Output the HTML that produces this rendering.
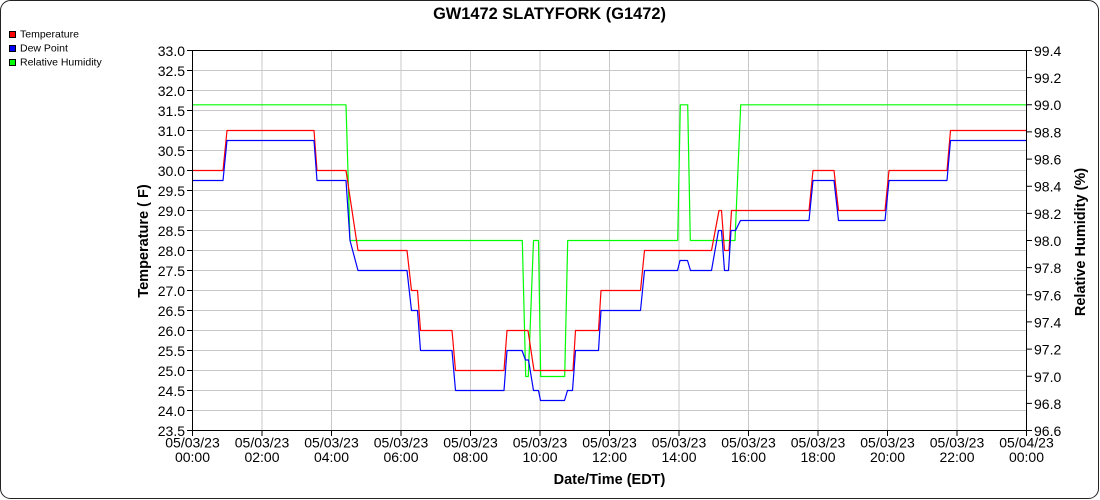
<!DOCTYPE html>
<html><head><meta charset="utf-8"><style>
html,body{margin:0;padding:0;background:#fff;}
svg{display:block;}
text{font-family:"Liberation Sans",Arial,sans-serif;fill:#000;}
</style></head><body>
<svg width="1100" height="500" viewBox="0 0 1100 500" xmlns="http://www.w3.org/2000/svg">
<rect x="0.5" y="0.5" width="1098" height="498" rx="10" ry="10" fill="#fff" stroke="#222" stroke-width="1"/>
<text x="549.5" y="19" font-size="16.4" font-weight="bold" text-anchor="middle">GW1472 SLATYFORK (G1472)</text>
<!-- legend -->
<rect x="9.5" y="31.5" width="6" height="6" fill="#ff0000" stroke="#000"/>
<text x="20" y="37.5" font-size="10.5">Temperature</text>
<rect x="9.5" y="45.5" width="6" height="6" fill="#0000ff" stroke="#000"/>
<text x="20" y="51.5" font-size="10.5">Dew Point</text>
<rect x="9.5" y="59.5" width="6" height="6" fill="#00ff00" stroke="#000"/>
<text x="20" y="65.5" font-size="10.5">Relative Humidity</text>
<!-- grid -->
<g stroke="#c8c8c8" stroke-width="1">
<line x1="192" y1="70.5" x2="1026" y2="70.5"/><line x1="192" y1="90.5" x2="1026" y2="90.5"/><line x1="192" y1="110.5" x2="1026" y2="110.5"/><line x1="192" y1="130.5" x2="1026" y2="130.5"/><line x1="192" y1="150.5" x2="1026" y2="150.5"/><line x1="192" y1="170.5" x2="1026" y2="170.5"/><line x1="192" y1="190.5" x2="1026" y2="190.5"/><line x1="192" y1="210.5" x2="1026" y2="210.5"/><line x1="192" y1="230.5" x2="1026" y2="230.5"/><line x1="192" y1="250.5" x2="1026" y2="250.5"/><line x1="192" y1="270.5" x2="1026" y2="270.5"/><line x1="192" y1="290.5" x2="1026" y2="290.5"/><line x1="192" y1="310.5" x2="1026" y2="310.5"/><line x1="192" y1="330.5" x2="1026" y2="330.5"/><line x1="192" y1="350.5" x2="1026" y2="350.5"/><line x1="192" y1="370.5" x2="1026" y2="370.5"/><line x1="192" y1="390.5" x2="1026" y2="390.5"/><line x1="192" y1="410.5" x2="1026" y2="410.5"/>
<line x1="262" y1="50" x2="262" y2="430"/><line x1="331.5" y1="50" x2="331.5" y2="430"/><line x1="401" y1="50" x2="401" y2="430"/><line x1="470.5" y1="50" x2="470.5" y2="430"/><line x1="540" y1="50" x2="540" y2="430"/><line x1="609.5" y1="50" x2="609.5" y2="430"/><line x1="679" y1="50" x2="679" y2="430"/><line x1="748.5" y1="50" x2="748.5" y2="430"/><line x1="818" y1="50" x2="818" y2="430"/><line x1="887.5" y1="50" x2="887.5" y2="430"/><line x1="957" y1="50" x2="957" y2="430"/>
</g>
<!-- series -->
<g fill="none" stroke-width="1.2" stroke-linejoin="round" transform="translate(0,0.5)">
<polyline stroke="#00ff00" points="192.5,104.3 346,104.3 350,240 522.3,240 525.7,376 528.3,376 533.5,240 538.5,240 540.7,376 564.7,376 567.7,240 677.7,240 680.3,104.3 687.7,104.3 690.3,240 735,240 740.7,104.3 1026,104.3"/>
<polyline stroke="#ff0000" points="192.5,170 223,170 227,130 314,130 317,170 346,170 358,250 407,250 411.5,290 417.5,290 420.5,330 452,330 455.5,370 504,370 507,330 528,330 534,370 573,370 575.5,330 598.5,330 601,290 640.5,290 644.5,250 711.5,250 719,210 721.5,210 724.5,250 729,250 731.5,210 809,210 813,170 834,170 838.5,210 885,210 889,170 947,170 950.5,130 1026,130"/>
<polyline stroke="#0000ff" points="192.5,180 223,180 227,140 314,140 317,180 346,180 350,240 358,270 407,270 411.5,310 417.5,310 420.5,350 452,350 455.5,390 504,390 507,350 522,350 525.5,359.5 528.5,359.5 533.5,390 538.5,390 540.5,400 564.5,400 567.5,390 572.5,390 575.5,350 598.5,350 601,310 640.5,310 644.5,270 677.5,270 680,260 687.5,260 690.5,270 711.5,270 718.5,230 721.5,230 724.5,270 728.5,270 731,230 735.5,230 740.5,220 809,220 813,180 834,180 838.5,220 885,220 889,180 947,180 950.5,140 1026,140"/>
</g>
<!-- axes -->
<g stroke="#000" stroke-width="1" fill="none">
<line x1="192.5" y1="50.5" x2="1026.5" y2="50.5"/>
<line x1="192.5" y1="430.5" x2="1026.5" y2="430.5"/>
<line x1="192.5" y1="50" x2="192.5" y2="431"/>
<line x1="1026.5" y1="50" x2="1026.5" y2="431"/>
<!-- left ticks -->
<path d="M187,50.5H192M187,70.5H192M187,90.5H192M187,110.5H192M187,130.5H192M187,150.5H192M187,170.5H192M187,190.5H192M187,210.5H192M187,230.5H192M187,250.5H192M187,270.5H192M187,290.5H192M187,310.5H192M187,330.5H192M187,350.5H192M187,370.5H192M187,390.5H192M187,410.5H192M187,430.5H192"/>
<!-- right ticks -->
<path d="M1027,50.5H1032M1027,77.6H1032M1027,104.8H1032M1027,131.9H1032M1027,159.1H1032M1027,186.2H1032M1027,213.4H1032M1027,240.5H1032M1027,267.6H1032M1027,294.8H1032M1027,321.9H1032M1027,349.1H1032M1027,376.2H1032M1027,403.4H1032M1027,430.5H1032"/>
<!-- bottom ticks -->
<path d="M192.5,431V436M262,431V436M331.5,431V436M401,431V436M470.5,431V436M540,431V436M609.5,431V436M679,431V436M748.5,431V436M818,431V436M887.5,431V436M957,431V436M1026.5,431V436"/>
</g>
<!-- left labels -->
<g font-size="14" text-anchor="end">
<text x="185" y="56">33.0</text><text x="185" y="76">32.5</text><text x="185" y="96">32.0</text><text x="185" y="116">31.5</text><text x="185" y="136">31.0</text><text x="185" y="156">30.5</text><text x="185" y="176">30.0</text><text x="185" y="196">29.5</text><text x="185" y="216">29.0</text><text x="185" y="236">28.5</text><text x="185" y="256">28.0</text><text x="185" y="276">27.5</text><text x="185" y="296">27.0</text><text x="185" y="316">26.5</text><text x="185" y="336">26.0</text><text x="185" y="356">25.5</text><text x="185" y="376">25.0</text><text x="185" y="396">24.5</text><text x="185" y="416">24.0</text><text x="185" y="436">23.5</text>
</g>
<!-- right labels -->
<g font-size="14" text-anchor="start">
<text x="1034" y="56">99.4</text><text x="1034" y="83">99.2</text><text x="1034" y="110">99.0</text><text x="1034" y="137.5">98.8</text><text x="1034" y="164.5">98.6</text><text x="1034" y="191.5">98.4</text><text x="1034" y="219">98.2</text><text x="1034" y="246">98.0</text><text x="1034" y="273">97.8</text><text x="1034" y="300.5">97.6</text><text x="1034" y="327.5">97.4</text><text x="1034" y="354.5">97.2</text><text x="1034" y="382">97.0</text><text x="1034" y="409">96.8</text><text x="1034" y="436">96.6</text>
</g>
<!-- x labels -->
<g font-size="14" text-anchor="middle">
<text x="192.5" y="447.5">05/03/23</text><text x="192.5" y="462">00:00</text>
<text x="262" y="447.5">05/03/23</text><text x="262" y="462">02:00</text>
<text x="331.5" y="447.5">05/03/23</text><text x="331.5" y="462">04:00</text>
<text x="401" y="447.5">05/03/23</text><text x="401" y="462">06:00</text>
<text x="470.5" y="447.5">05/03/23</text><text x="470.5" y="462">08:00</text>
<text x="540" y="447.5">05/03/23</text><text x="540" y="462">10:00</text>
<text x="609.5" y="447.5">05/03/23</text><text x="609.5" y="462">12:00</text>
<text x="679" y="447.5">05/03/23</text><text x="679" y="462">14:00</text>
<text x="748.5" y="447.5">05/03/23</text><text x="748.5" y="462">16:00</text>
<text x="818" y="447.5">05/03/23</text><text x="818" y="462">18:00</text>
<text x="887.5" y="447.5">05/03/23</text><text x="887.5" y="462">20:00</text>
<text x="957" y="447.5">05/03/23</text><text x="957" y="462">22:00</text>
<text x="1026.5" y="447.5">05/04/23</text><text x="1026.5" y="462">00:00</text>
</g>
<!-- axis titles -->
<text x="609.5" y="484" font-size="14.5" font-weight="bold" text-anchor="middle">Date/Time (EDT)</text>
<text x="148" y="241" font-size="14.5" font-weight="bold" text-anchor="middle" transform="rotate(-90 148 241)">Temperature ( F)</text>
<text x="1085" y="242" font-size="14.5" font-weight="bold" text-anchor="middle" transform="rotate(-90 1085 242)">Relative Humidity (%)</text>
</svg>
</body></html>
